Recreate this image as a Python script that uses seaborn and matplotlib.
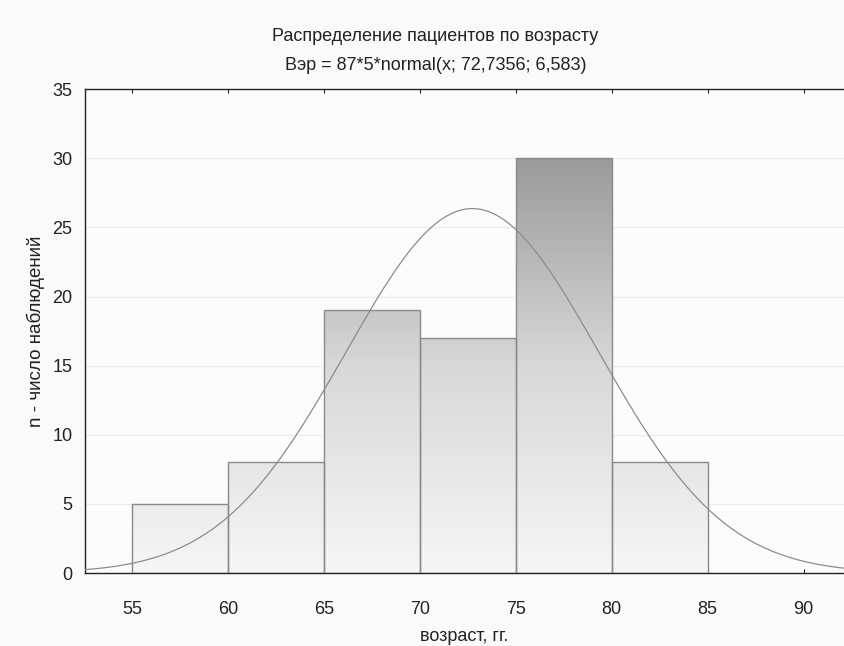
import numpy as np
import pandas as pd
import seaborn as sns
import matplotlib.pyplot as plt
from matplotlib.colors import LinearSegmentedColormap

# age bins and counts
bin_edges = [55, 60, 65, 70, 75, 80, 85]
counts = [5, 8, 19, 17, 30, 8]
n_total = 87
bin_width = 5
mu = 72.7356
sigma = 6.583

x_ticks = [55, 60, 65, 70, 75, 80, 85, 90]
y_ticks = [0, 5, 10, 15, 20, 25, 30, 35]

sns.set_style("white")
plt.rcParams['font.family'] = ['Liberation Sans', 'DejaVu Sans']

fig = plt.figure(figsize=(8.44, 6.46), dpi=100, facecolor='#fafafa')
ax = fig.add_axes([0.1007, 0.113, 0.8993, 0.749])
ax.set_facecolor('#fcfcfc')

df = pd.DataFrame({
    'age': [(a + b) / 2 for a, b in zip(bin_edges[:-1], bin_edges[1:])],
    'n': counts,
})
sns.histplot(data=df, x='age', weights='n', bins=bin_edges, ax=ax,
             stat='count', element='bars', fill=True,
             facecolor='none', edgecolor='#8a8a8a', linewidth=1.0, zorder=3)

# vertical gradient fill inside each bar
cmap = LinearSegmentedColormap.from_list('g', ['#f6f6f6', '#d8d8d8', '#9a9a9c'])
grad = np.linspace(0, 1, 256).reshape(-1, 1)
for p in ax.patches:
    h = p.get_height()
    x0 = p.get_x()
    im = ax.imshow(grad * (h / 30.0), extent=[x0, x0 + p.get_width(), 0, h],
                   origin='lower', aspect='auto', cmap=cmap, vmin=0, vmax=1,
                   zorder=2)
    im.set_clip_path(p)
ax.set_xlim(52.55, 92.1)
ax.set_ylim(0, 35)

# fitted normal curve
xs = np.linspace(52.55, 92.1, 400)
ys = n_total * bin_width * np.exp(-0.5 * ((xs - mu) / sigma) ** 2) / (sigma * np.sqrt(2 * np.pi))
sns.lineplot(x=xs, y=ys, ax=ax, color='#8c8c8c', linewidth=0.9, zorder=4)

for yv in y_ticks[1:-1]:
    ax.axhline(yv, color='#ececec', linewidth=0.9, zorder=1)

ax.set_xticks(x_ticks)
ax.set_yticks(y_ticks)
ax.tick_params(axis='both', direction='in', length=3, labelsize=13, colors='#222222',
               top=True, left=False, bottom=True)
ax.tick_params(axis='x', pad=20)
ax.tick_params(axis='y', pad=9)

ax.spines['right'].set_visible(False)
for side in ['left', 'bottom', 'top']:
    ax.spines[side].set_color('#222222')
    ax.spines[side].set_linewidth(1.0)

ax.set_xlabel('возраст, гг.', fontsize=13, labelpad=7, color='#222222')
ax.set_ylabel('n - число наблюдений', fontsize=13.5, labelpad=5, color='#222222')

fig.text(0.516, 0.943, 'Распределение пациентов по возрасту', ha='center', va='center',
         fontsize=13, color='#222222')
fig.text(0.516, 0.898, 'Вэр = 87*5*normal(x; 72,7356; 6,583)', ha='center', va='center',
         fontsize=13, color='#222222')

fig.savefig('out.png', dpi=100, facecolor=fig.get_facecolor())
